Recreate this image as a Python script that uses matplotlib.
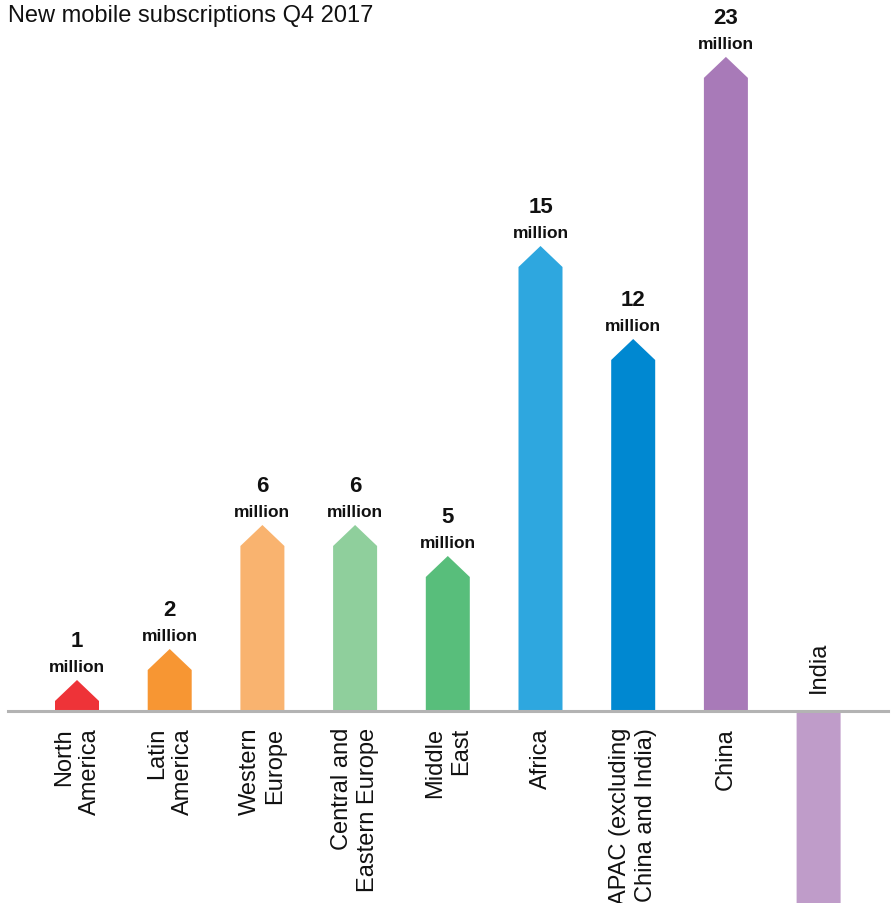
import matplotlib.pyplot as plt
from matplotlib.patches import Polygon

plt.rcParams['font.family'] = ['Liberation Sans', 'DejaVu Sans']

# Data
regions = ["North\nAmerica", "Latin\nAmerica", "Western\nEurope",
           "Central and\nEastern Europe", "Middle\nEast", "Africa",
           "APAC (excluding\nChina and India)", "China", "India"]
values = [1, 2, 6, 6, 5, 15, 12, 23, None]
value_labels = ["1", "2", "6", "6", "5", "15", "12", "23", ""]
# drawn heights (China arrow is shortened in the original, India runs off the bottom)
heights = [1, 2, 6, 6, 5, 15, 12, 21.1, -8]
colors = ["#ee3338", "#f79633", "#f9b36f", "#8fcf9c", "#58be7b",
          "#2ea7df", "#0088d1", "#a87ab8", "#bf9cc9"]

W, H = 894, 904
step = 92.7   # px per bar slot
unit = 31.0   # px per million
fig = plt.figure(figsize=(W / 100, H / 100), dpi=100)
ax = fig.add_axes([0, 0, 1, 1])
ax.set_xlim(-77 / step, (W - 77) / step)
ax.set_ylim(-(H - 712) / unit, 712 / unit)
ax.axis("off")

bw = 44 / step
head = 21 / unit
for i, (h, c) in enumerate(zip(heights, colors)):
    s = 1 if h > 0 else -1
    pts = [(i - bw / 2, 0), (i - bw / 2, h - s * head), (i, h),
           (i + bw / 2, h - s * head), (i + bw / 2, 0)]
    ax.add_patch(Polygon(pts, closed=True, facecolor=c, edgecolor="none", zorder=2))

    if value_labels[i]:
        ax.annotate("million", (i, h), xytext=(0, 4), textcoords="offset points",
                    ha="center", va="bottom", fontsize=12.5, fontweight="bold",
                    color="#111111")
        ax.annotate(value_labels[i], (i, h), xytext=(0, 21), textcoords="offset points",
                    ha="center", va="bottom", fontsize=16, fontweight="bold",
                    color="#111111")

    if h > 0:
        ax.annotate(regions[i], (i, 0), xytext=(0, -11.5), textcoords="offset points",
                    rotation=90, ha="center", va="top", multialignment="right",
                    fontsize=17, color="#111111", linespacing=1.22)
    else:
        ax.annotate(regions[i], (i, 0), xytext=(0, 14), textcoords="offset points",
                    rotation=90, ha="center", va="bottom",
                    fontsize=17, color="#111111")

ax.axhline(0, xmin=8 / W, xmax=888 / W, color="#b3b3b3", lw=2.2, zorder=3)

fig.text(8 / W, 1 - 5 / H, "New mobile subscriptions Q4 2017", ha="left", va="top",
         fontsize=17, color="#111111")

plt.savefig("out.png", dpi=100)
